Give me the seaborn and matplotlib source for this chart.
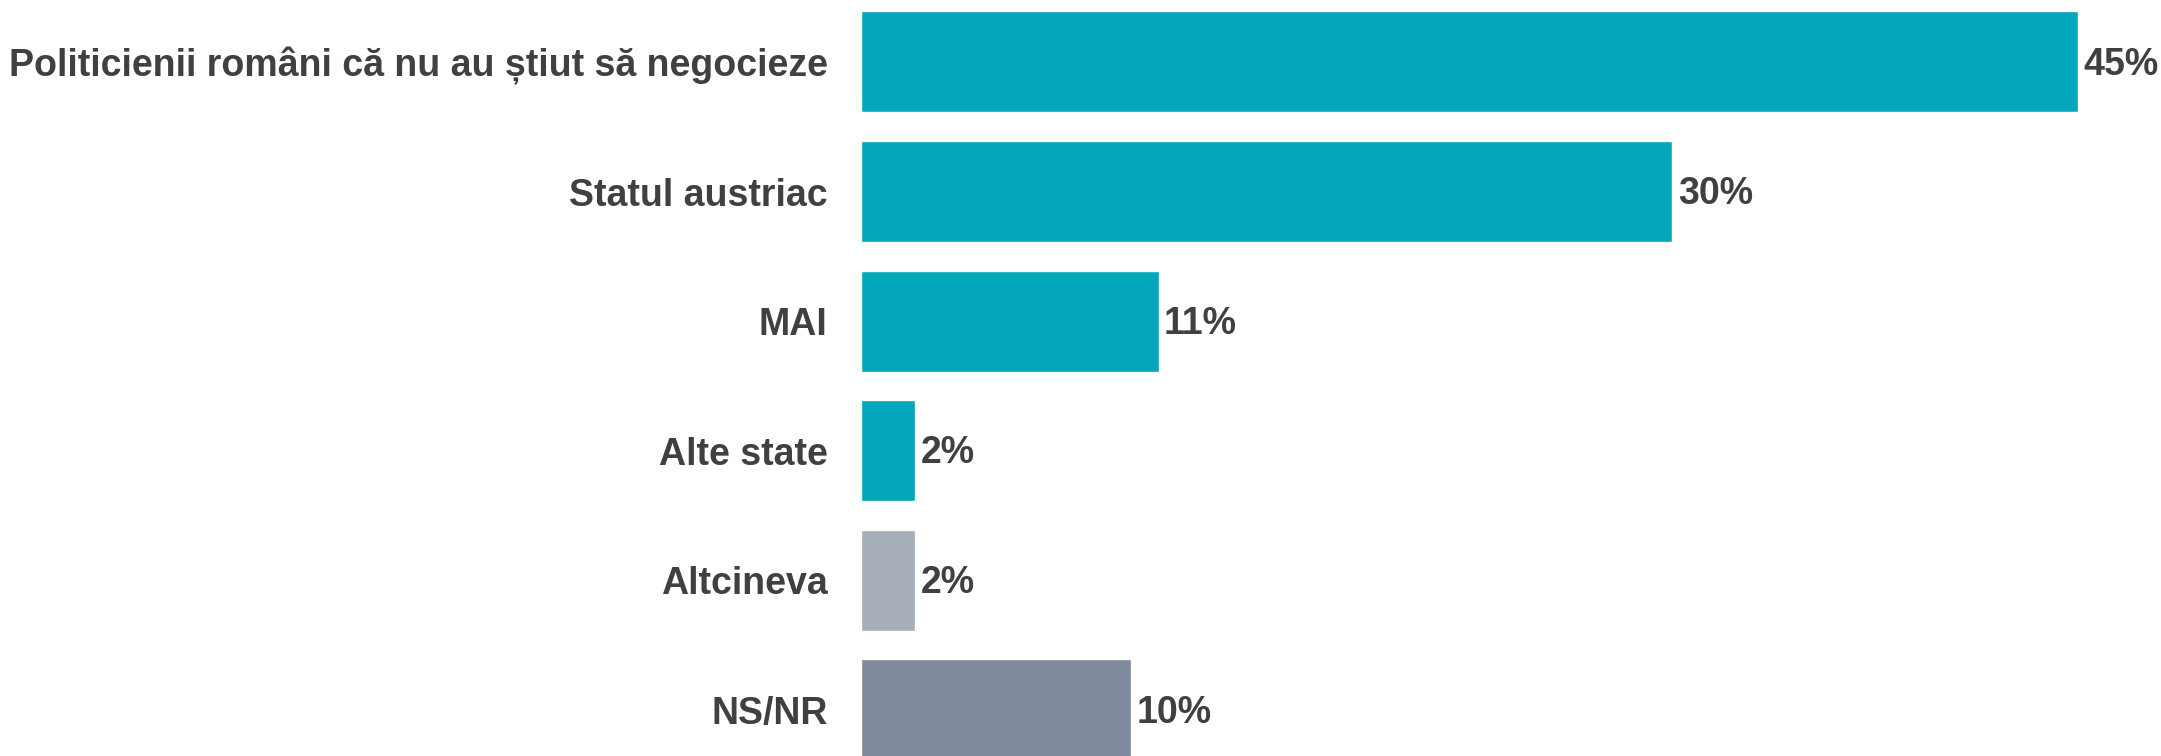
import matplotlib
matplotlib.use("Agg")
import matplotlib.pyplot as plt
import seaborn as sns
import pandas as pd

# ─── Data ────────────────────────────────────────────────────
categories = [
    "Politicienii români că nu au știut să negocieze",
    "Statul austriac",
    "MAI",
    "Alte state",
    "Altcineva",
    "NS/NR",
]
values = [45, 30, 11, 2, 2, 10]
bar_colors = ["#02a7bb", "#02a7bb", "#02a7bb", "#02a7bb", "#a5aeb9", "#7f8a9c"]

TEXT = "#404040"

df = pd.DataFrame({"cat": categories, "val": values})

sns.set_style("white")
plt.rcParams["font.family"] = ["Liberation Sans", "DejaVu Sans"]

fig = plt.figure(figsize=(21.61, 7.56), dpi=100)
ax = fig.add_axes([861 / 2161, 0, 1 - 861 / 2161, 1])

sns.barplot(
    data=df, x="val", y="cat", hue="cat",
    palette=dict(zip(categories, bar_colors)),
    orient="h", width=0.78, legend=False, ax=ax,
    saturation=1,
)

# value labels right of each bar
for i, v in enumerate(values):
    ax.text(v + 0.2, i + 0.02, f"{v}%", va="center", ha="left",
            fontsize=27, fontweight="bold", color=TEXT)

ax.set_xlim(0, 48.06)
ax.set_ylim(5.355, -0.478)
ax.set_xlabel("")
ax.set_ylabel("")
ax.set_xticks([])
ax.tick_params(axis="y", length=0, pad=24)
for lbl in ax.get_yticklabels():
    lbl.set_fontsize(27)
    lbl.set_fontweight("bold")
    lbl.set_color(TEXT)
sns.despine(ax=ax, left=True, bottom=True)

fig.savefig("out.png", dpi=100)
